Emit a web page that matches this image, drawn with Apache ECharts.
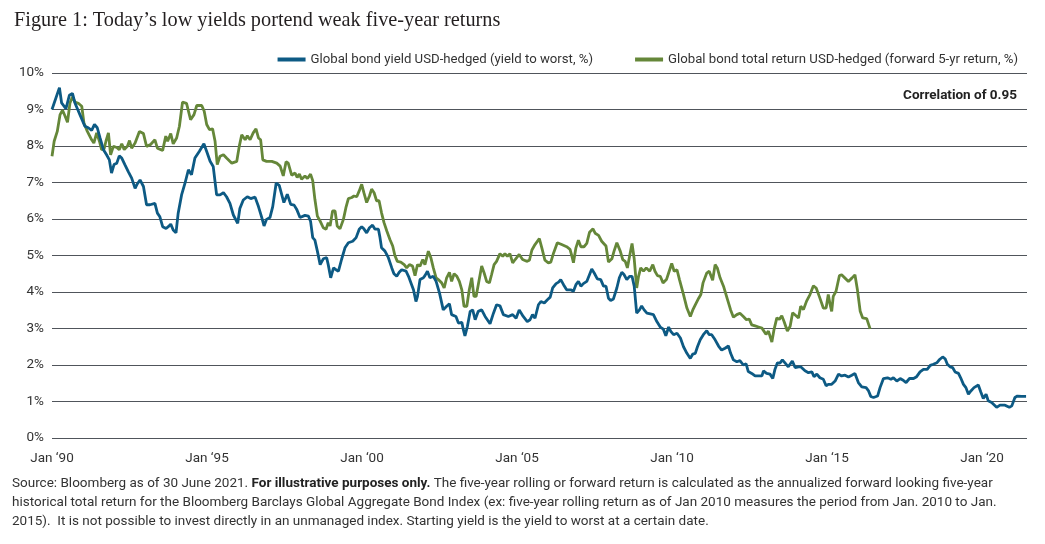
<!DOCTYPE html>
<html>
<head>
<meta charset="utf-8">
<script src="https://cdn.jsdelivr.net/npm/echarts@6/dist/echarts.min.js"></script>
<style>
html,body{margin:0;padding:0;background:#fff;}
#c{width:1045px;height:544px;}
</style>
</head>
<body>
<div id="c"></div>
<script>
// ---- DATA ----
const titleText = "Figure 1: Today\u2019s low yields portend weak five-year returns";
const seriesNames = ["Global bond yield USD-hedged (yield to worst, %)", "Global bond total return USD-hedged (forward 5-yr return, %)"];
const xTickYears = [1990, 1995, 2000, 2005, 2010, 2015, 2020];
const yTicks = [0,1,2,3,4,5,6,7,8,9,10];

// decimal-year dates and values
const yieldDates = [1990.00,1990.24,1990.31,1990.45,1990.56,1990.66,1990.74,1990.90,1991.06,1991.17,1991.28,1991.37,1991.46,1991.55,1991.66,1991.76,1991.85,1991.92,1992.00,1992.09,1992.17,1992.25,1992.35,1992.46,1992.57,1992.68,1992.75,1992.84,1992.95,1993.05,1993.16,1993.32,1993.40,1993.48,1993.57,1993.68,1993.75,1993.83,1993.91,1994.00,1994.07,1994.18,1994.29,1994.40,1994.50,1994.61,1994.75,1994.90,1994.99,1995.10,1995.20,1995.31,1995.42,1995.53,1995.63,1995.74,1995.85,1995.99,1996.06,1996.17,1996.30,1996.41,1996.55,1996.66,1996.76,1996.84,1996.92,1997.03,1997.12,1997.23,1997.33,1997.48,1997.59,1997.70,1997.81,1997.89,1998.00,1998.16,1998.27,1998.34,1998.41,1998.48,1998.56,1998.65,1998.75,1998.86,1998.91,1998.99,1999.08,1999.16,1999.24,1999.34,1999.45,1999.56,1999.70,1999.81,1999.91,1999.99,2000.06,2000.15,2000.24,2000.34,2000.42,2000.53,2000.58,2000.63,2000.74,2000.85,2000.96,2001.03,2001.12,2001.20,2001.28,2001.42,2001.50,2001.60,2001.66,2001.74,2001.79,2001.87,2001.98,2002.03,2002.11,2002.19,2002.30,2002.39,2002.50,2002.62,2002.73,2002.82,2002.89,2003.03,2003.11,2003.22,2003.27,2003.32,2003.40,2003.49,2003.57,2003.65,2003.75,2003.86,2003.97,2004.13,2004.24,2004.34,2004.45,2004.56,2004.72,2004.86,2004.97,2005.07,2005.20,2005.33,2005.42,2005.50,2005.58,2005.69,2005.77,2005.88,2005.98,2006.07,2006.15,2006.26,2006.34,2006.41,2006.50,2006.60,2006.73,2006.82,2006.90,2006.98,2007.06,2007.14,2007.25,2007.34,2007.41,2007.49,2007.59,2007.70,2007.79,2007.87,2007.95,2008.02,2008.11,2008.22,2008.30,2008.38,2008.45,2008.54,2008.63,2008.71,2008.78,2008.86,2008.95,2009.02,2009.10,2009.19,2009.30,2009.40,2009.51,2009.62,2009.72,2009.80,2009.89,2009.96,2010.05,2010.16,2010.27,2010.37,2010.48,2010.59,2010.67,2010.75,2010.82,2010.91,2011.01,2011.12,2011.20,2011.28,2011.39,2011.50,2011.60,2011.71,2011.82,2011.89,2011.98,2012.09,2012.19,2012.30,2012.39,2012.46,2012.57,2012.68,2012.79,2012.90,2012.95,2013.05,2013.16,2013.25,2013.32,2013.40,2013.48,2013.56,2013.65,2013.75,2013.88,2013.97,2014.08,2014.15,2014.29,2014.40,2014.51,2014.58,2014.67,2014.77,2014.88,2014.97,2015.04,2015.15,2015.26,2015.37,2015.47,2015.58,2015.69,2015.80,2015.90,2016.01,2016.12,2016.26,2016.34,2016.41,2016.50,2016.63,2016.71,2016.82,2016.95,2017.06,2017.14,2017.25,2017.36,2017.44,2017.55,2017.66,2017.79,2017.89,2018.00,2018.11,2018.23,2018.33,2018.43,2018.54,2018.63,2018.73,2018.81,2018.88,2018.97,2019.05,2019.13,2019.24,2019.31,2019.40,2019.48,2019.56,2019.64,2019.74,2019.88,2019.96,2020.04,2020.13,2020.20,2020.31,2020.47,2020.58,2020.74,2020.88,2020.96,2021.06,2021.14,2021.28,2021.42];
const yieldValues = [9.00,9.60,9.18,9.02,9.39,9.44,9.18,8.86,8.54,8.50,8.43,8.59,8.50,8.22,7.90,7.76,7.62,7.26,7.49,7.53,7.73,7.67,7.49,7.30,7.12,6.84,6.96,7.07,6.89,6.39,6.39,6.43,6.16,6.06,5.79,5.74,5.79,5.86,5.70,5.62,6.16,6.66,6.98,7.35,7.21,7.67,7.85,8.06,7.85,7.58,7.44,6.66,6.66,6.72,6.61,6.43,6.11,5.88,6.29,6.52,6.61,6.56,6.60,6.34,6.06,5.81,5.99,6.04,6.34,6.98,6.92,6.45,6.68,6.40,6.38,6.27,6.04,6.10,6.08,5.94,5.49,5.42,5.12,4.75,4.91,4.94,4.75,4.39,4.66,4.61,4.57,4.89,5.21,5.35,5.39,5.49,5.72,5.79,5.73,5.62,5.76,5.83,5.72,5.72,5.49,5.21,5.12,4.94,4.66,4.50,4.43,4.54,4.61,4.57,4.43,4.20,4.06,3.74,3.88,4.34,4.39,4.45,4.57,4.39,4.43,4.29,3.97,3.51,3.61,3.68,3.38,3.33,3.15,3.17,2.96,2.80,3.06,3.47,3.51,3.24,3.47,3.51,3.33,3.13,3.42,3.65,3.62,3.38,3.33,3.38,3.28,3.51,3.33,3.19,3.24,3.38,3.28,3.65,3.74,3.70,3.79,3.86,4.11,4.23,4.27,4.34,4.20,4.06,4.06,4.02,4.20,4.29,4.16,4.23,4.29,4.48,4.63,4.52,4.36,4.34,4.16,4.16,3.83,3.77,3.81,4.11,4.39,4.54,4.48,4.34,4.43,4.43,4.16,3.42,3.51,3.62,3.51,3.42,3.40,3.38,3.19,3.04,2.98,2.80,3.04,2.92,2.83,2.87,2.74,2.50,2.32,2.18,2.30,2.32,2.50,2.69,2.83,2.94,2.83,2.83,2.69,2.52,2.41,2.46,2.52,2.32,2.14,2.09,2.12,2.00,2.03,1.82,1.77,1.70,1.70,1.70,1.84,1.77,1.75,1.63,1.88,2.06,2.05,2.14,2.05,1.95,2.11,1.93,1.95,1.95,1.84,1.79,1.81,1.68,1.75,1.65,1.61,1.43,1.47,1.47,1.56,1.75,1.70,1.72,1.67,1.72,1.77,1.52,1.40,1.38,1.29,1.14,1.11,1.15,1.38,1.63,1.65,1.61,1.65,1.56,1.63,1.59,1.52,1.63,1.63,1.68,1.81,1.88,1.88,1.99,2.02,2.06,2.15,2.22,2.17,2.02,1.95,1.93,1.81,1.77,1.65,1.47,1.38,1.20,1.29,1.38,1.45,1.26,1.08,1.20,1.02,0.97,0.84,0.90,0.90,0.84,0.88,1.11,1.15,1.14,1.14];

const returnDates = [1990.00,1990.07,1990.17,1990.26,1990.34,1990.42,1990.50,1990.58,1990.66,1990.74,1990.85,1990.96,1991.03,1991.14,1991.28,1991.35,1991.44,1991.53,1991.60,1991.68,1991.74,1991.82,1991.89,1991.98,1992.09,1992.17,1992.25,1992.33,1992.43,1992.50,1992.57,1992.68,1992.82,1992.95,1993.05,1993.18,1993.32,1993.40,1993.57,1993.67,1993.73,1993.83,1993.91,1994.02,1994.11,1994.21,1994.34,1994.47,1994.58,1994.67,1994.83,1994.91,1994.99,1995.08,1995.18,1995.26,1995.33,1995.42,1995.53,1995.63,1995.80,1995.96,1996.04,1996.12,1996.23,1996.30,1996.39,1996.49,1996.58,1996.66,1996.73,1996.80,1996.92,1997.09,1997.25,1997.36,1997.46,1997.55,1997.62,1997.73,1997.84,1997.91,1997.98,1998.05,1998.16,1998.24,1998.34,1998.41,1998.48,1998.56,1998.65,1998.75,1998.84,1998.91,1998.97,1999.05,1999.13,1999.20,1999.29,1999.40,1999.48,1999.56,1999.67,1999.74,1999.83,1999.91,1999.99,2000.06,2000.15,2000.24,2000.31,2000.39,2000.47,2000.55,2000.63,2000.71,2000.80,2000.90,2000.99,2001.06,2001.14,2001.25,2001.36,2001.44,2001.53,2001.63,2001.71,2001.79,2001.87,2001.96,2002.03,2002.14,2002.22,2002.30,2002.39,2002.46,2002.57,2002.65,2002.73,2002.82,2002.89,2002.97,2003.06,2003.14,2003.22,2003.29,2003.38,2003.46,2003.54,2003.61,2003.68,2003.75,2003.86,2003.94,2004.02,2004.11,2004.18,2004.26,2004.34,2004.45,2004.54,2004.61,2004.69,2004.77,2004.86,2004.94,2005.07,2005.18,2005.31,2005.40,2005.48,2005.58,2005.72,2005.80,2005.90,2006.01,2006.09,2006.18,2006.30,2006.44,2006.60,2006.71,2006.77,2006.82,2006.90,2006.98,2007.06,2007.16,2007.25,2007.34,2007.45,2007.52,2007.63,2007.73,2007.87,2007.95,2008.06,2008.13,2008.22,2008.33,2008.41,2008.49,2008.56,2008.65,2008.71,2008.78,2008.86,2008.92,2008.99,2009.08,2009.17,2009.28,2009.38,2009.45,2009.53,2009.62,2009.71,2009.82,2009.89,2009.99,2010.07,2010.16,2010.24,2010.37,2010.48,2010.59,2010.67,2010.75,2010.86,2010.93,2011.00,2011.12,2011.20,2011.31,2011.39,2011.46,2011.55,2011.66,2011.79,2011.89,2011.98,2012.09,2012.19,2012.30,2012.40,2012.49,2012.57,2012.68,2012.79,2012.90,2012.95,2013.03,2013.11,2013.22,2013.29,2013.38,2013.46,2013.54,2013.61,2013.72,2013.81,2013.89,2014.00,2014.08,2014.15,2014.24,2014.34,2014.45,2014.56,2014.65,2014.75,2014.88,2014.97,2015.04,2015.10,2015.15,2015.20,2015.29,2015.40,2015.47,2015.58,2015.69,2015.80,2015.90,2015.98,2016.07,2016.15,2016.28,2016.39];
const returnValues = [7.72,8.13,8.40,8.86,8.98,8.82,8.65,9.18,9.35,9.20,9.17,9.09,8.63,8.40,8.17,8.08,8.36,8.13,7.90,7.92,8.13,8.36,7.76,7.99,7.96,7.90,8.06,7.90,7.99,8.15,7.94,8.08,8.40,8.34,7.99,8.04,8.17,7.94,7.88,8.27,8.13,8.34,8.06,8.22,8.54,9.20,9.17,8.72,8.86,9.11,9.11,8.95,8.59,8.45,8.47,8.13,7.49,7.72,7.76,7.67,7.53,7.58,7.99,8.31,8.17,8.28,8.17,8.36,8.47,8.22,8.17,7.62,7.58,7.58,7.53,7.45,7.18,7.57,7.53,7.20,7.26,7.14,7.23,7.09,7.18,7.11,7.23,7.05,6.54,6.08,5.94,5.76,5.72,5.90,5.81,6.22,6.22,5.81,5.73,5.99,6.31,6.56,6.59,6.63,6.61,6.77,6.95,6.72,6.45,6.63,6.82,6.72,6.50,6.50,6.17,5.90,5.67,5.44,5.26,5.00,4.84,4.82,4.75,4.66,4.75,4.71,4.45,4.75,4.71,4.89,4.75,5.12,4.94,4.66,4.39,4.34,4.25,4.11,4.39,4.54,4.29,4.50,4.43,4.29,4.06,3.61,3.61,4.06,4.39,3.88,3.88,4.20,4.71,4.52,4.29,4.25,4.48,4.75,4.84,5.05,4.98,5.05,4.98,5.05,4.80,4.89,5.03,4.89,4.84,4.87,5.15,5.30,5.46,5.21,4.87,4.80,4.82,5.07,5.35,5.30,5.24,5.17,4.98,4.80,5.21,5.42,5.24,5.24,5.33,5.64,5.73,5.61,5.55,5.39,5.26,4.82,4.91,5.12,5.35,5.12,4.89,4.84,4.66,5.07,5.33,4.91,4.11,4.43,4.66,4.57,4.66,4.57,4.75,4.57,4.45,4.43,4.25,4.34,4.52,4.78,4.57,4.61,4.34,3.93,3.56,3.33,3.51,3.65,3.83,3.93,4.25,4.52,4.57,4.32,4.75,4.66,4.39,4.16,3.79,3.51,3.31,3.38,3.42,3.33,3.24,3.26,3.10,3.07,3.04,3.01,3.02,2.84,2.93,2.63,2.97,3.29,3.25,3.35,3.20,2.93,3.06,3.43,3.35,3.29,3.61,3.52,3.75,3.93,4.17,4.11,3.88,3.56,3.56,3.93,3.65,3.47,3.88,4.02,4.45,4.47,4.38,4.29,4.38,4.47,4.06,3.47,3.29,3.27,2.99];

const annotationText = "Correlation of 0.95";
const sourceLines = [
  "Source: Bloomberg as of 30 June 2021. {b|For illustrative purposes only.} The five-year rolling or forward return is calculated as the annualized forward looking five-year",
  "historical total return for the Bloomberg Barclays Global Aggregate Bond Index (ex: five-year rolling return as of Jan 2010 measures the period from Jan. 2010 to Jan.",
  "2015).  It is not possible to invest directly in an unmanaged index. Starting yield is the yield to worst at a certain date."
];

// ---- CHART ----
const NARROW = "'Liberation Sans Narrow', 'Roboto', sans-serif";
const BLUE = "#0d5a84";
const GREEN = "#658739";
const pair = (d, v) => d.map((x, i) => [x, v[i]]);

const chart = echarts.init(document.getElementById('c'), null, {renderer: 'canvas'});
chart.setOption({
  animation: false,
  backgroundColor: '#fff',
  title: {
    text: titleText, left: 9, top: 6,
    textStyle: {fontFamily: "'Liberation Serif', 'DejaVu Serif', serif", fontSize: 20.3, fontWeight: 'normal', color: '#231f20'}
  },
  legend: {
    right: 22, top: 48, itemWidth: 28, itemHeight: 4, itemGap: 42, icon: 'rect',
    textStyle: {fontFamily: NARROW, fontSize: 13.2, color: '#333'},
    data: seriesNames
  },
  grid: {left: 52, right: 18, top: 73, bottom: 106},
  xAxis: {
    type: 'value', min: 1990, max: 2021.45, interval: 5,
    axisLine: {show: false}, axisTick: {show: false}, splitLine: {show: false},
    axisLabel: {
      margin: 14, fontFamily: NARROW, fontSize: 13.5, color: '#333', showMaxLabel: false,
      formatter: v => xTickYears.indexOf(v) >= 0 ? "Jan \u2018" + String(v).slice(2) : ''
    }
  },
  yAxis: {
    type: 'value', min: yTicks[0], max: yTicks[yTicks.length - 1], interval: 1,
    axisLine: {show: false}, axisTick: {show: false},
    splitLine: {lineStyle: {color: '#50555b', width: 1.2}},
    axisLabel: {margin: 8, fontFamily: NARROW, fontSize: 13.5, color: '#333', formatter: '{value}%'}
  },
  series: [
    {name: seriesNames[0], type: 'line', data: pair(yieldDates, yieldValues), showSymbol: false, symbol: 'none',
     color: BLUE, lineStyle: {width: 2.8, color: BLUE}, z: 3},
    {name: seriesNames[1], type: 'line', data: pair(returnDates, returnValues), showSymbol: false, symbol: 'none',
     color: GREEN, lineStyle: {width: 2.8, color: GREEN}, z: 2}
  ],
  graphic: [
    {type: 'text', right: 28, top: 89,
     style: {text: annotationText, font: "bold 13.5px " + NARROW, fill: '#222'}},
  ].concat(sourceLines.map((t, i) => ({
    type: 'text', left: 12, top: 477 + i * 19,
    style: {
      text: t, fill: '#333', font: "13.5px " + NARROW,
      rich: {b: {fontWeight: 'bold', fontFamily: NARROW, fontSize: 13.5, fill: '#222'}}
    }
  })))
});
</script>
</body>
</html>
